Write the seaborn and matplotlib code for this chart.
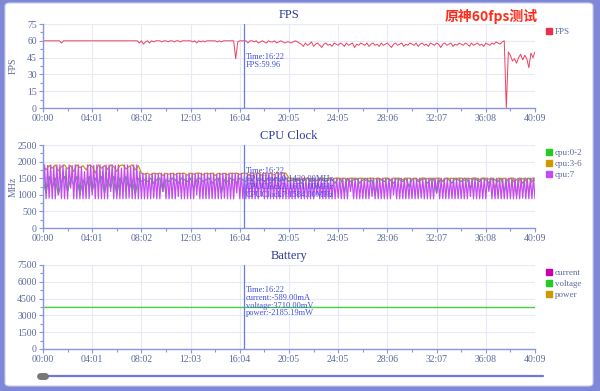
import numpy as np
import matplotlib
matplotlib.use("Agg")
import matplotlib.pyplot as plt
import seaborn as sns
from matplotlib.lines import Line2D
from matplotlib.patches import FancyBboxPatch

# session length in seconds (40:09)
duration = 2409
tick_labels = ["00:00", "04:01", "08:02", "12:03", "16:04", "20:05",
               "24:05", "28:06", "32:07", "36:08", "40:09"]

# FPS, one sample every ~10 s
fps = [
    60, 60, 60, 60, 60, 60, 60, 60, 60, 58, 60, 60, 60, 60, 60, 60, 60, 60, 60, 60,
    60, 60, 60, 60, 60, 60, 60, 60, 60, 60, 60, 60, 60, 60, 60, 60, 60, 60, 60, 60,
    60, 60, 60, 60, 60, 60, 60, 58, 60, 57, 59, 60, 58, 60, 59, 60, 60, 60, 59, 60,
    60, 59, 60, 60, 59, 60, 60, 59, 60, 60, 60, 60, 60, 59, 60, 58, 60, 59, 60, 59,
    60, 60, 60, 60, 60, 59, 60, 59, 60, 60, 60, 60, 60, 60, 44, 59, 60, 60, 60, 60,
    58, 60, 60, 59, 60, 58, 59, 60, 59, 58, 60, 59, 59, 60, 58, 59, 60, 59, 58, 59,
    59, 58, 59, 60, 59, 58,
    57, 55, 58, 56, 57, 59, 55, 57, 58, 56,
    54, 57, 58, 56, 57, 55, 58, 57, 56, 58,
    57, 55, 58, 56, 57, 58, 54, 57, 56, 58,
    57, 56, 58, 55, 57, 58, 56, 57, 55, 58,
    56, 57, 58, 56, 54, 57, 58, 56, 57, 58,
    55, 57, 56, 58, 57, 56, 58, 55, 57, 58,
    56, 57, 55, 58, 57, 56, 58, 57, 54, 57,
    58, 56, 57, 58, 55, 57, 56, 58, 57, 56,
    58, 57, 55, 58, 56, 57, 58, 56, 57, 55,
    58, 57, 56, 58, 57, 59, 58, 57, 59,
    60, 0,
    50, 47, 42, 44, 40, 45, 48, 43, 47, 44, 36, 49, 45, 50,
]

# CPU clocks (MHz), big/mid cores one sample every ~15 s
cpu_0_2 = [
    1450, 1050, 1550, 1200, 1500, 1000, 1400, 1550, 1100, 1500,
    1300, 1550, 1000, 1450, 1250, 1550, 1100, 1500, 1350, 1550,
    1050, 1450, 1200, 1550, 1000, 1500, 1300, 1550, 1150, 1450,
    1000, 1500, 1400,
    1450, 1400, 1500, 1350, 1450, 1500, 1100, 1450, 1400, 1500,
    1450, 1350, 1500, 1450, 1400, 1500, 1200, 1450, 1500, 1400,
    1450, 1500, 1350, 1450, 1500, 1050, 1450, 1400, 1500, 1450,
    1350, 1500, 1450, 1400, 1500, 1450, 1150, 1500, 1450, 1400,
    1500, 1350, 1450, 1500, 1400, 1450, 1500, 1400,
    1450, 1400, 1500, 1350, 1450, 1500, 1400, 1450, 1200, 1500,
    1450, 1400, 1500, 1450, 1350, 1500, 1450, 1100, 1500, 1400,
    1450, 1500, 1350, 1450, 1500, 1400, 1450, 1000, 1500, 1450,
    1400, 1500, 1450, 1350, 1500, 1450, 1400, 1500, 1250, 1450,
    1500, 1400, 1450, 1500, 1350, 1450, 1500, 1050, 1450, 1400,
    1500, 1450, 1350, 1500, 1450, 1400, 1500, 1450, 1200, 1500,
    1450, 1400, 1500, 1450, 1350, 1500, 1450, 1400, 1500, 1100,
    1450, 1500, 1400, 1450, 1500, 1350, 1450, 1500, 1400, 1450,
]

cpu_3_6 = [
    1900, 1750, 1880, 1800, 1900, 1720, 1850, 1900, 1780, 1880,
    1700, 1900, 1820, 1880, 1750, 1900, 1850, 1650, 1900, 1800,
    1880, 1760, 1900, 1850, 1700, 1880, 1900, 1780, 1850, 1900,
    1750, 1880, 1650,
    1620, 1650, 1600, 1650, 1630, 1650, 1580, 1650, 1620, 1650,
    1600, 1650, 1640, 1650, 1590, 1650, 1620, 1650, 1650, 1600,
    1650, 1630, 1650, 1580, 1650, 1620, 1650, 1600, 1650, 1640,
    1650, 1610, 1650, 1650, 1600, 1650, 1620, 1650, 1590, 1650,
    1630, 1650, 1600, 1650, 1620, 1650, 1650, 1500,
    1500, 1480, 1500, 1450, 1500, 1500, 1470, 1500, 1420, 1500,
    1500, 1480, 1500, 1450, 1500, 1500, 1490, 1500, 1440, 1500,
    1500, 1470, 1500, 1500, 1430, 1500, 1500, 1480, 1500, 1460,
    1500, 1500, 1420, 1500, 1490, 1500, 1450, 1500, 1500, 1470,
    1500, 1440, 1500, 1500, 1480, 1500, 1450, 1500, 1500, 1420,
    1500, 1490, 1500, 1460, 1500, 1500, 1430, 1500, 1480, 1500,
    1500, 1450, 1500, 1500, 1470, 1500, 1200, 1500, 1480, 1500,
    1450, 1500, 1500, 1000, 1500, 1480, 1500, 1100, 1500, 1500,
]

# little core toggles fast, one sample every ~7.5 s
cpu_7 = [
    880, 1900, 880, 1880, 900, 1900, 880, 1850, 880, 1900, 1000, 1900, 880, 1900, 880, 1800, 880, 1900, 1200, 1880,
    880, 1900, 880, 1900, 880, 1850, 880, 1700, 880, 1900, 880, 1900, 1000, 1880, 880, 1900, 880, 1900, 880, 1850,
    880, 1900, 880, 1900, 1100, 1900, 880, 1880, 880, 1900, 880, 1800, 880, 1900, 880, 1900, 900, 1850, 880, 1900,
    880, 1900, 880, 1700,
    880, 1650, 880, 1650, 880, 1600, 880, 1650, 900, 1650, 880, 1650, 880, 1650, 1100, 1650, 880, 1620, 880, 1650,
    880, 1650, 880, 1650, 950, 1650, 880, 1650, 880, 1600, 880, 1650, 880, 1650, 880, 1650, 1000, 1650, 880, 1650,
    880, 1650, 880, 1650, 880, 1650, 880, 1650, 880, 1620, 880, 1650, 880, 1650, 900, 1650, 880, 1650, 880, 1650,
    880, 1650, 1050, 1650, 880, 1650, 880, 1600, 880, 1650, 880, 1650, 880, 1650, 880, 1650, 880, 1650, 950, 1650,
    880, 1650, 880, 1650, 880, 1650, 880, 1620, 880, 1650, 880, 1650, 880, 1650, 880, 1500,
    880, 1500, 880, 1500, 880, 1500, 900, 1500, 880, 1500, 880, 1480, 880, 1500, 880, 1500, 880, 1500, 1000, 1500,
    880, 1500, 880, 1500, 880, 1450, 880, 1500, 880, 1500, 880, 1500, 900, 1500, 880, 1500, 880, 1500, 880, 1500,
    1100, 1500, 880, 1500, 880, 1500, 880, 1480, 880, 1500, 880, 1500, 880, 1500, 950, 1500, 880, 1500, 880, 1500,
    880, 1500, 880, 1500, 880, 1500, 880, 1500, 1000, 1500, 880, 1500, 880, 1500, 880, 1500, 880, 1480, 880, 1500,
    880, 1500, 880, 1500, 880, 1500, 900, 1500, 880, 1500, 880, 1500, 880, 1500, 880, 1500, 1050, 1500, 880, 1500,
    880, 1500, 880, 1500, 880, 1480, 880, 1500, 880, 1500, 880, 1500, 880, 1500, 880, 1500, 880, 1500, 950, 1500,
    880, 1500, 880, 1500, 880, 1500, 880, 1500, 880, 1500, 1100, 1500, 880, 1500, 880, 1500, 880, 1500, 880, 1480,
    880, 1500, 880, 1500, 880, 1500, 880, 1500, 880, 1500, 880, 1500, 900, 1500, 880, 1500, 880, 1500, 880, 1500,
    880,
]

battery_time = [0, 482, 964, 1446, 1928, 2409]
current = [-560, -575, -589, -580, -590, -585]
voltage = [3715, 3712, 3710, 3708, 3706, 3705]
power = [-2080, -2135, -2185, -2150, -2190, -2170]

t_fps = np.linspace(0, duration, len(fps))
t_big = np.linspace(0, duration, len(cpu_0_2))
t_little = np.linspace(0, duration, len(cpu_7))

BORDER = "#7f88d6"
AXIS = "#8a96dc"
GRID = "#e6e9f6"
TICK = "#5b6a9e"
TITLE = "#2f3c96"
TIP = "#4150e0"
CURSOR = "#6a78e6"
cursor_t = 982

sns.set_theme(style="white")
plt.rcParams["font.family"] = ["Liberation Serif", "Noto Sans CJK SC"]

fig = plt.figure(figsize=(6, 3.91), dpi=100, facecolor=BORDER)
fig.patches.append(FancyBboxPatch((5 / 600, 5 / 391), 588 / 600, 383 / 391,
                                  boxstyle="round,pad=0,rounding_size=0.008",
                                  transform=fig.transFigure, facecolor="white",
                                  edgecolor="#c9cdef", lw=0.8, zorder=-5))

ax_fps = fig.add_axes([43 / 600, 1 - 108 / 391, 492 / 600, 84 / 391])
ax_cpu = fig.add_axes([43 / 600, 1 - 228 / 391, 492 / 600, 83 / 391])
ax_bat = fig.add_axes([43 / 600, 1 - 349 / 391, 492 / 600, 84 / 391])


def style_axis(ax, ymax, ystep, title, ylabel=None):
    xt = np.linspace(0, duration, len(tick_labels))
    ax.set_xlim(0, duration)
    ax.set_ylim(0, ymax)
    ax.set_xticks(xt)
    ax.set_xticklabels(tick_labels)
    ax.set_xticks((xt[:-1] + xt[1:]) / 2, minor=True)
    yt = np.arange(0, ymax + 1, ystep)
    ax.set_yticks(yt)
    ax.set_yticks((yt[:-1] + yt[1:]) / 2, minor=True)
    ax.set_facecolor("none")
    ax.grid(True, which="major", color=GRID, lw=0.8)
    for s in ["top", "right"]:
        ax.spines[s].set_visible(False)
    for s in ["left", "bottom"]:
        ax.spines[s].set_color(AXIS)
        ax.spines[s].set_linewidth(1.0)
    ax.tick_params(which="both", bottom=True, left=True, direction="out",
                   color=AXIS, width=0.8)
    ax.tick_params(which="major", length=3, labelsize=7, labelcolor=TICK, pad=1.5)
    ax.tick_params(which="minor", length=2)
    ax.set_title(title, fontsize=9, color=TITLE, pad=4)
    ax.set_xlabel("")
    if ylabel:
        ax.set_ylabel(ylabel, fontsize=7, color=TICK)
        ax.yaxis.set_label_coords(-0.052, 0.5)
    else:
        ax.set_ylabel("")
    ax.axvline(cursor_t, color=CURSOR, lw=0.9, zorder=5)


def square_legend(ax, names, colors):
    handles = [Line2D([0], [0], marker="s", ls="", markersize=4.5, color=c)
               for c in colors]
    ax.legend(handles, names, loc="upper left", bbox_to_anchor=(1.015, 1.0),
              frameon=False, fontsize=6.5, handlelength=0.7, handletextpad=0.3,
              labelspacing=0.3, borderaxespad=0, labelcolor=TICK)


def tooltip(ax, lines, ys):
    for txt, y in zip(lines, ys):
        ax.annotate(txt, xy=(cursor_t, y), xytext=(1.5, 0),
                    textcoords="offset points", fontsize=6, color=TIP,
                    va="center", ha="left", zorder=6)


# FPS
sns.lineplot(x=t_fps, y=fps, ax=ax_fps, color="#f04060", linewidth=0.7)
style_axis(ax_fps, 75, 15, "FPS", "FPS")
square_legend(ax_fps, ["FPS"], ["#e8304a"])
tooltip(ax_fps, ["Time:16:22", "FPS:59.96"], [45.5, 38.4])

# CPU clock
sns.lineplot(x=t_big, y=cpu_0_2, ax=ax_cpu, color="#22cc22", linewidth=0.9)
sns.lineplot(x=t_big, y=cpu_3_6, ax=ax_cpu, color="#cc9900", linewidth=0.9)
sns.lineplot(x=t_little, y=cpu_7, ax=ax_cpu, color="#c24cf0", linewidth=0.9)
style_axis(ax_cpu, 2500, 500, "CPU Clock", "MHz")
square_legend(ax_cpu, ["cpu:0-2", "cpu:3-6", "cpu:7"],
              ["#22cc22", "#cc9900", "#c24cf0"])
tooltip(ax_cpu, ["Time:16:22", "CPUClock0:1420.00MHz",
                 "CPUClock3:1651.00MHz", "CPUClock7:1584.00MHz"],
        [1717, 1476, 1235, 994])

# Battery
sns.lineplot(x=battery_time, y=current, ax=ax_bat, color="#cc00aa", linewidth=1)
sns.lineplot(x=battery_time, y=voltage, ax=ax_bat, color="#44d044", linewidth=1)
sns.lineplot(x=battery_time, y=power, ax=ax_bat, color="#cc9900", linewidth=1)
style_axis(ax_bat, 7500, 1500, "Battery")
square_legend(ax_bat, ["current", "voltage", "power"],
              ["#cc00aa", "#22cc22", "#cc9900"])
tooltip(ax_bat, ["Time:16:22", "current:-589.00mA",
                 "voltage:3710.00mV", "power:-2185.19mW"],
        [5268, 4554, 3839, 3214])

fig.text(491 / 600, 1 - 16 / 391, "原神60fps测试", color="#ff2a1a", fontsize=10,
         fontweight="bold", family=["Noto Sans CJK SC"], ha="center", va="center")

# time slider under the charts
fig.add_artist(Line2D([47 / 600, 543 / 600], [15 / 391, 15 / 391],
                      color="#6a78e0", lw=1.6))
fig.add_artist(Line2D([40 / 600, 45 / 600], [15 / 391, 15 / 391],
                      color="#777777", lw=5, solid_capstyle="round"))

fig.savefig("out.png", dpi=100, facecolor=fig.get_facecolor())
